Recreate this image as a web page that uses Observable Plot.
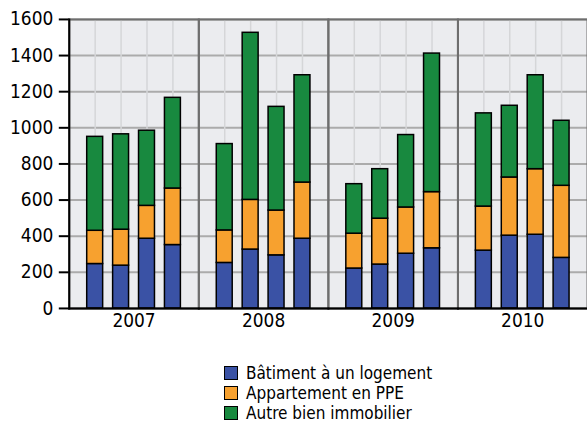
<!DOCTYPE html>
<html>
<head>
<meta charset="utf-8">
<script src="https://cdn.jsdelivr.net/npm/d3@7"></script>
<script src="https://cdn.jsdelivr.net/npm/@observablehq/plot@0.6"></script>
<style>
  html, body { margin: 0; padding: 0; background: #fff; overflow: hidden; }
  body { width: 587px; height: 423px; font-family: "DejaVu Sans Condensed", "DejaVu Sans", sans-serif; }
  #chart { width: 587px; overflow: hidden; height: 340px; }
  #legend { margin-top: 23px; padding-left: 224px; font-size: 17px; line-height: 18px; color: #000; }
  .row { display: flex; align-items: center; height: 20px; }
  .sw { width: 12px; height: 12px; border: 1px solid #000; margin-right: 8px; flex: none; }
</style>
</head>
<body>
<div id="chart"></div>
<div id="legend"></div>
<script>
const years = ["2007", "2008", "2009", "2010"];
const quarters = ["T1", "T2", "T3", "T4"];
const seriesNames = ["Bâtiment à un logement", "Appartement en PPE", "Autre bien immobilier"];
const seriesColors = ["#3a52a5", "#f7a12f", "#18893f"];
const yTicks = [0, 200, 400, 600, 800, 1000, 1200, 1400, 1600];

// values per quarter, 2007 T1 ... 2010 T4
const batiment    = [246, 237, 386, 351,  252, 326, 294, 386,  221, 243, 303, 333,  320, 403, 408, 280];
const appartement = [184, 199, 182, 313,  180, 275, 248, 311,  193, 254, 256, 311,  244, 322, 363, 399];
const autre       = [520, 528, 416, 502,  478, 925, 574, 594,  274, 274, 401, 767,  516, 397, 520, 360];

const seriesValues = [batiment, appartement, autre];
const data = [];
years.forEach((year, yi) => {
  quarters.forEach((q, qi) => {
    seriesNames.forEach((s, si) => {
      data.push({year, q, series: s, value: seriesValues[si][yi * 4 + qi]});
    });
  });
});

const chart = Plot.plot({
  width: 589,
  height: 340,
  marginLeft: 69,
  marginRight: 0,
  marginTop: 19,
  marginBottom: 31,
  style: {fontFamily: "'DejaVu Sans Condensed', 'DejaVu Sans'", fontSize: "19px", color: "#000", background: "#fff"},
  fx: {domain: years, padding: 0, label: null},
  x: {domain: quarters, paddingInner: 0.385, paddingOuter: 0.69, axis: null},
  y: {domain: [0, 1600], label: null},
  color: {domain: seriesNames, range: seriesColors},
  marks: [
    Plot.frame({fill: "#ebecef"}),
    Plot.gridY(yTicks, {stroke: "#ababab", strokeOpacity: 1, strokeWidth: 2}),
    Plot.gridX({stroke: "#d5d6d8", strokeOpacity: 1, strokeWidth: 1.5}),
    Plot.frame({stroke: "#6e6e6e", strokeWidth: 2}),
    Plot.barY(data, {
      fx: "year", x: "q", y: "value", fill: "series",
      order: seriesNames, stroke: "#000", strokeWidth: 1.5
    }),
    Plot.frame({anchor: "bottom", stroke: "#000", strokeWidth: 2}),
    Plot.frame({anchor: "left", facetAnchor: "left", stroke: "#000", strokeWidth: 2}),
    Plot.axisY(yTicks, {tickSize: 10, tickPadding: 6, stroke: "#000", strokeWidth: 2, fill: "#000", fontSize: 19, label: null, tickFormat: d => String(d)}),
    Plot.axisFx({anchor: "bottom", tickSize: 0, tickPadding: 5, fontSize: 19, fill: "#000", label: null})
  ]
});
document.getElementById("chart").appendChild(chart);

const legend = document.getElementById("legend");
seriesNames.forEach((s, i) => {
  const row = document.createElement("div");
  row.className = "row";
  const sw = document.createElement("span");
  sw.className = "sw";
  sw.style.background = seriesColors[i];
  const t = document.createElement("span");
  t.textContent = s;
  row.appendChild(sw);
  row.appendChild(t);
  legend.appendChild(row);
});
</script>
</body>
</html>
